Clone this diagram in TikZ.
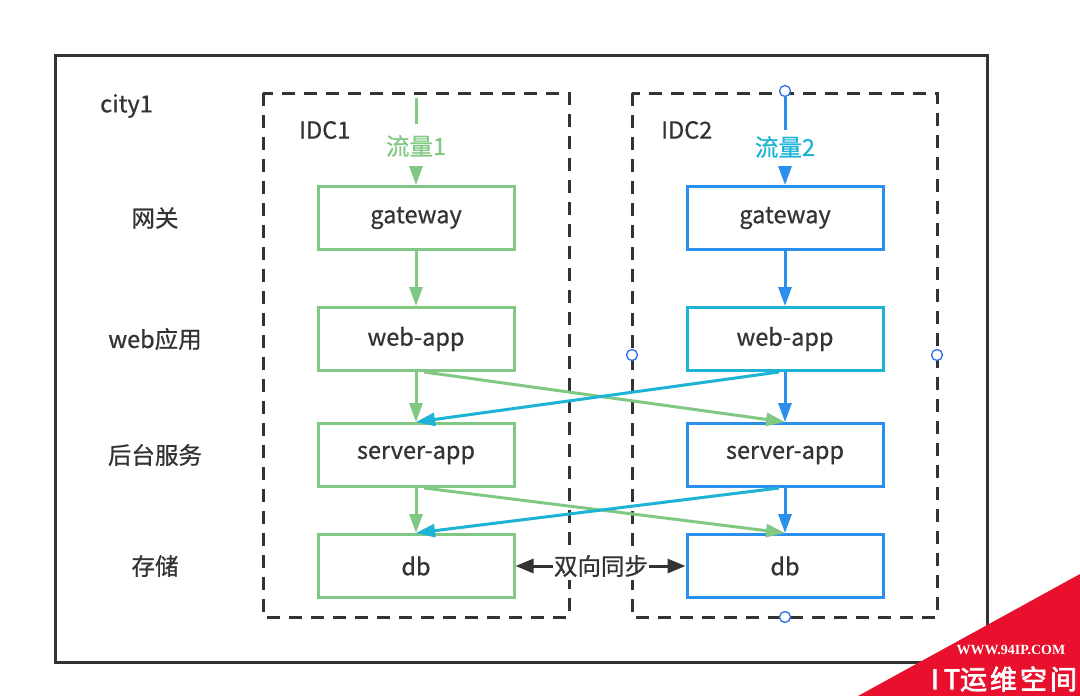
\documentclass[tikz,border=0pt]{standalone}
\usepackage{fontspec}
\setmainfont{Noto Sans CJK SC}[BoldFont=Noto Sans CJK SC, BoldFeatures={FakeBold=0.7}]
\newfontfamily\wmserif{Liberation Serif}
\newfontfamily\wmsans{Noto Sans CJK SC}[BoldFont=Noto Sans CJK SC, BoldFeatures={FakeBold=2.5}]
\usetikzlibrary{arrows.meta}
\definecolor{ink}{HTML}{333333}
\definecolor{gr}{HTML}{80C883}
\definecolor{bl}{HTML}{2B8FEE}
\definecolor{cy}{HTML}{1DB3D4}
\definecolor{hd}{HTML}{2E6EE8}
\definecolor{wmred}{HTML}{E8102C}
\tikzset{
  every node/.style={text=ink},
  lab/.style={font=\bfseries\fontsize{23.5}{25}\selectfont},
  box/.style={draw, line width=3, minimum width=196, minimum height=63, inner sep=0, font=\bfseries\fontsize{23.5}{25}\selectfont, fill=white},
  gbox/.style={box, draw=gr},
  bbox/.style={box, draw=bl},
  cbox/.style={box, draw=cy},
  idc/.style={draw=ink, line width=3, dash pattern=on 13 off 9},
  tipa/.style={-{Triangle[length=19,width=13]}},
  garr/.style={tipa, draw=gr, line width=3},
  barr/.style={tipa, draw=bl, line width=3},
  carr/.style={tipa, draw=cy, line width=3},
  sarr/.style={-{Triangle[length=18,width=14]}, draw=ink, line width=3},
  handle/.style={circle, draw=hd, fill=white, line width=1.3, minimum size=11, inner sep=0},
}
\begin{document}
\begin{tikzpicture}[x=1pt,y=-1pt]
\useasboundingbox[fill=white] (0,0) rectangle (1080,696);
% outer city frame
\draw[ink, line width=3] (55,55) rectangle (987,662);
\node[lab, anchor=west, inner sep=0] (city) at (100,106) {city1};
% IDC frames
\draw[idc] (263,93) rectangle (569,617);
\draw[idc] (632,93) rectangle (937,617);
\node[lab, anchor=west, inner sep=0] (idc1) at (299,130) {IDC1};
\node[lab, anchor=west, inner sep=0] (idc2) at (661,130) {IDC2};
% layer labels
\node[lab] (l1) at (155,218) {网关};
\node[lab] (l2) at (155,339) {web应用};
\node[lab] (l3) at (155,455) {后台服务};
\node[lab] (l4) at (155,566) {存储};
% IDC1 boxes
\node[gbox] (g1) at (416,218) {gateway};
\node[gbox] (w1) at (416,339) {web-app};
\node[gbox] (s1) at (416,455) {server-app};
\node[gbox] (d1) at (416,566) {db};
% IDC2 boxes
\node[bbox] (g2) at (785,218) {gateway};
\node[cbox] (w2) at (785,339) {web-app};
\node[bbox] (s2) at (785,455) {server-app};
\node[bbox] (d2) at (785,566) {db};
% traffic entries
\coordinate (t1) at (416,98);
\node[lab, text=gr, inner ysep=11, inner xsep=0] (f1) at (416,146) {流量1};
\draw[gr, line width=3] (t1) -- (f1.north);
\draw[garr] ([yshift=-12]f1.south) -- (g1.north);
\node[handle] (h1) at (785,91) {};
\node[lab, text=cy, inner ysep=11, inner xsep=0] (f2) at (785,147) {流量2};
\draw[bl, line width=3] (h1.south) -- ([yshift=-5]f2.north);
\draw[barr] ([yshift=-12]f2.south) -- (g2.north);
% vertical flows
\draw[garr] (g1) -- (w1);
\draw[garr] (w1) -- (s1);
\draw[garr] (s1) -- (d1);
\draw[barr] (g2) -- (w2);
\draw[barr] (w2) -- (s2);
\draw[barr] (s2) -- (d2);
% cross flows
\draw[garr] ([xshift=8]w1.south) -- (s2.north);
\draw[carr] ([xshift=-6]w2.south) -- (s1.north);
\draw[garr] ([xshift=8]s1.south) -- (d2.north);
\draw[carr] ([xshift=-6]s2.south) -- (d1.north);
% sync
\node[lab, inner xsep=1, fill=white] (sync) at (601,566) {双向同步};
\draw[sarr] (sync.west) -- (d1.east);
\draw[sarr] (sync.east) -- (d2.west);
% selection handles of IDC2
\node[handle] (h2) at (632,355) {};
\node[handle] (h3) at (937,355) {};
\node[handle] (h4) at (785,617) {};
% watermark
\fill[wmred] (858,696) -- (1080,574) -- (1080,696) -- cycle;
\node[text=white, font=\wmserif\bfseries\fontsize{14}{15}\selectfont] (wm1) at (1011,650) {WWW.94IP.COM};
\node[text=white, font=\wmsans\bfseries\fontsize{27}{28}\selectfont] (wm2) at (1004,679) {I\hspace{5pt}T运\hspace{3pt}维\hspace{3pt}空\hspace{3pt}间};
\end{tikzpicture}
\end{document}
